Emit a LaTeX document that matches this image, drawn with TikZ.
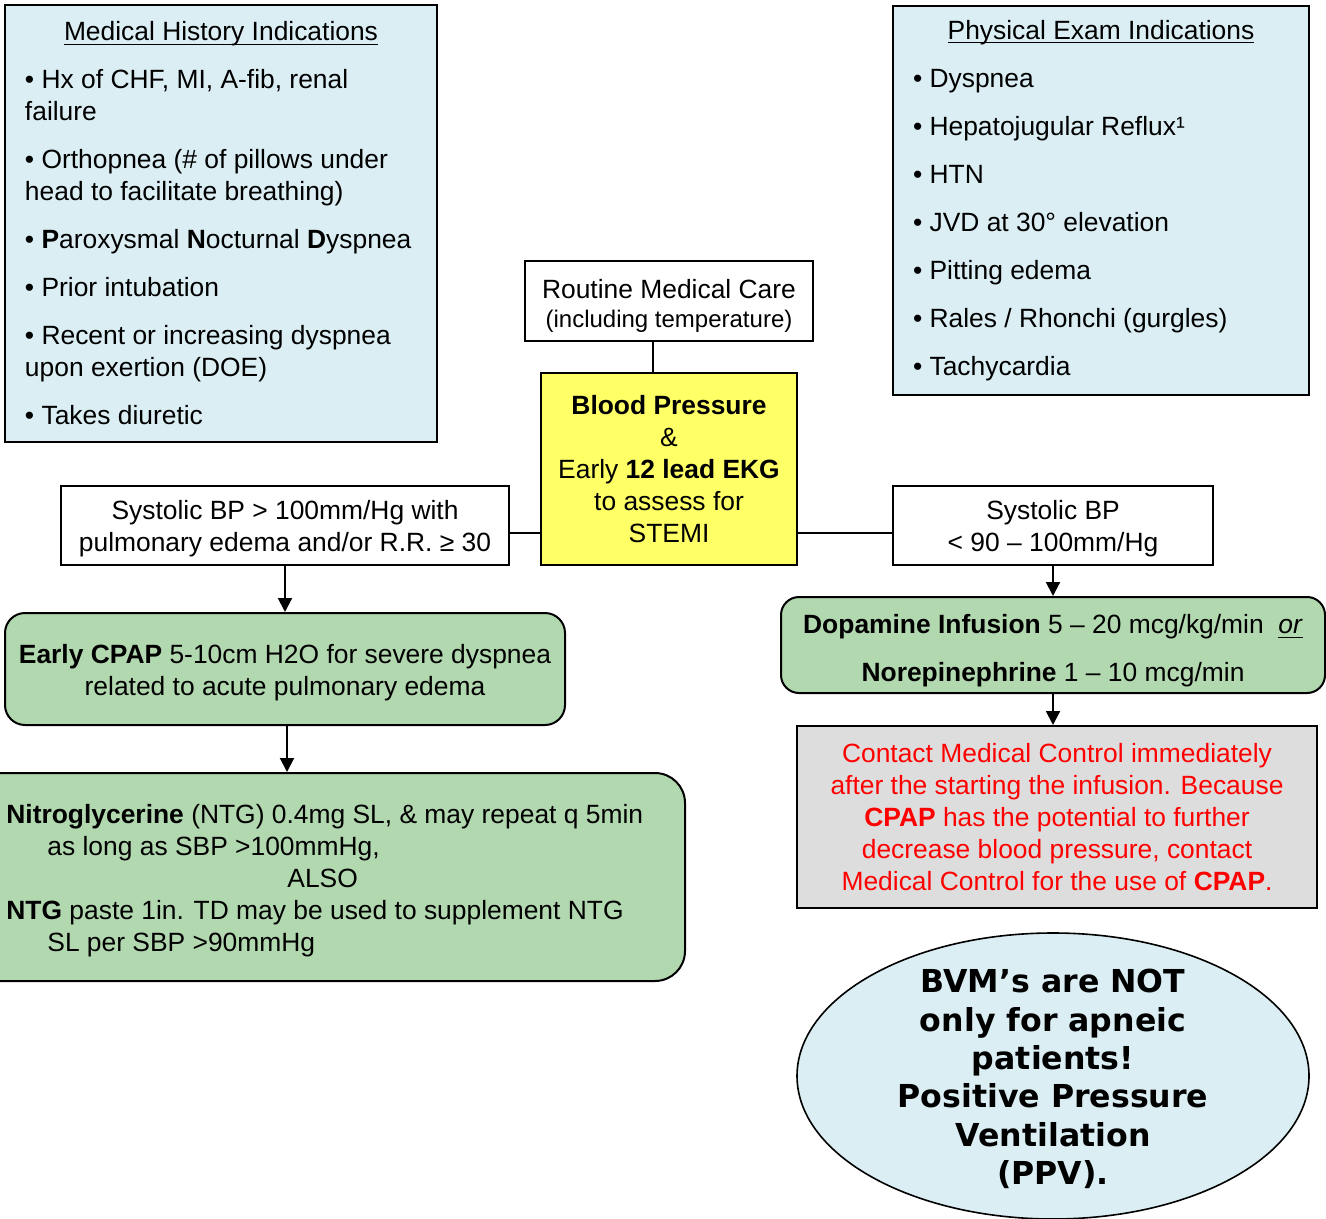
\documentclass[tikz,border=0pt]{standalone}
\usepackage{fontspec}
\usepackage{amsmath}
\setmainfont{Liberation Sans}
\newfontfamily\bannerfont{DejaVu Sans}
\usetikzlibrary{arrows.meta,shapes.geometric}

\definecolor{paleblue}{HTML}{DAEEF3}
\definecolor{softgreen}{HTML}{B2D8B0}
\definecolor{bpyellow}{HTML}{FFFF66}
\definecolor{notegray}{HTML}{DDDDDD}
\definecolor{alertred}{HTML}{FF0000}

% underline sitting just under the baseline
\newcommand{\flatul}[1]{\underline{\smash[b]{#1}}}
% invisible strut that lowers a node's text block
\newcommand{\lift}[1]{\rule{0pt}{#1}}

\tikzset{
  box/.style={draw=black, line width=1pt, inner sep=0pt, align=center,
              font=\fontsize{13.2}{16}\selectfont},
  infobox/.style={box, fill=paleblue},
  greenbox/.style={box, fill=softgreen},
  conn/.style={line width=1pt},
  arr/.style={line width=1pt, -{Triangle[width=7pt,length=7pt]}},
}

\begin{document}
\begin{tikzpicture}[x=0.5pt, y=-0.5pt]
\useasboundingbox (0,0) rectangle (1326,1219);
\clip (0,0) rectangle (1326,1219);

% history panel
\node[infobox, minimum width=216pt, minimum height=218.5pt] (hist) at (221,223.5) {%
\begin{minipage}{196pt}\setlength{\parskip}{8pt}%
\centering\flatul{Medical History Indications}\par
\raggedright
• Hx of CHF, MI, A-fib, renal\newline failure\par
• Orthopnea (\# of pillows under\newline head to facilitate breathing)\par
• \textbf{P}aroxysmal \textbf{N}octurnal \textbf{D}yspnea\par
• Prior intubation\par
• Recent or increasing dyspnea\newline upon exertion (DOE)\par
• Takes diuretic
\end{minipage}};

% physical exam panel
\node[infobox, minimum width=208pt, minimum height=194.5pt] (exam) at (1101,200.5) {%
\begin{minipage}{188pt}\setlength{\parskip}{8pt}%
\centering\flatul{Physical Exam Indications}\par
\raggedright
• Dyspnea\par
• Hepatojugular Reflux¹\par
• HTN\par
• JVD at 30° elevation\par
• Pitting edema\par
• Rales / Rhonchi (gurgles)\par
• Tachycardia
\end{minipage}};

% central column
\node[box, fill=white, minimum width=144pt, minimum height=40pt] (routine) at (669,301)
  {\lift{14pt}Routine Medical Care\\[-1.5pt]{\fontsize{12}{15}\selectfont(including temperature)}};
\node[box, fill=bpyellow, minimum width=128pt, minimum height=96pt] (bp) at (669,469)
  {\textbf{Blood Pressure}\\\&\\Early \textbf{12 lead EKG}\\to assess for\\STEMI};

% branches
\node[box, fill=white, minimum width=224pt, minimum height=39.5pt] (lsbp) at (285,525.5)
  {\lift{12.6pt}Systolic BP > 100mm/Hg with\\pulmonary edema and/or R.R. ≥ 30};
\node[box, fill=white, minimum width=160pt, minimum height=39.5pt] (rsbp) at (1053,525.5)
  {\lift{12.6pt}Systolic BP\\< 90 – 100mm/Hg};

% left treatment path
\node[greenbox, rounded corners=10pt, minimum width=280pt, minimum height=56pt] (cpap) at (285,669)
  {\lift{13.6pt}\textbf{Early CPAP} 5-10cm H2O for severe dyspnea\\related to acute pulmonary edema};
\node[greenbox, rounded corners=15pt, minimum width=362.5pt, minimum height=104pt] (ntgbox) at (322.5,877) {};
\node[anchor=west, align=left, inner sep=0pt, font=\fontsize{13.2}{16}\selectfont] (ntg) at (6,881)
  {\textbf{Nitroglycerine} (NTG) 0.4mg SL, \& may repeat q 5min\\
   \hspace*{20.5pt}as long as SBP >100mmHg,\\
   \hspace*{140.5pt}ALSO\\
   \textbf{NTG} paste 1in. TD may be used to supplement NTG\\
   \hspace*{20.5pt}SL per SBP >90mmHg};

% right treatment path
\node[greenbox, rounded corners=9pt, minimum width=272pt, minimum height=48pt] (dopa) at (1053,645)
  {\lift{15.6pt}\textbf{Dopamine Infusion} 5 – 20 mcg/kg/min\ \ \underline{\textit{or}}\\[8pt]
   \textbf{Norepinephrine} 1 – 10 mcg/min};
\node[box, fill=notegray, text=alertred, minimum width=260pt, minimum height=91pt] (contact) at (1057,817)
  {Contact Medical Control immediately\\
   after the starting the infusion. Because\\
   \textbf{CPAP} has the potential to further\\
   decrease blood pressure, contact\\
   Medical Control for the use of \textbf{CPAP}.};

% ventilation reminder: oval outline, then its text
\node[ellipse, draw=black, line width=0.8pt, fill=paleblue, inner sep=0pt,
      minimum width=256pt, minimum height=143pt] (bvm) at (1053,1076) {};
\node[align=center, inner sep=0pt,
      font=\bannerfont\bfseries\fontsize{15.8}{19.2}\selectfont] (bvmtext) at (1053,1079)
  {BVM’s are NOT\\only for apneic\\patients!\\Positive Pressure\\Ventilation\\(PPV).};

% connectors
\draw[conn] ([xshift=-8pt]routine.south) -- ([xshift=-8pt]bp.north);
\draw[conn] ([yshift=-3.5pt]lsbp.east) -- ([yshift=-3.5pt]lsbp.east -| bp.west);
\draw[conn] ([yshift=-3.5pt]rsbp.west) -- ([yshift=-3.5pt]rsbp.west -| bp.east);
\draw[arr] (lsbp.south) -- (cpap.north);
\draw[arr] ([xshift=1pt]cpap.south) -- ([xshift=1pt]cpap.south |- ntgbox.north);
\draw[arr] (rsbp.south) -- (dopa.north);
\draw[arr] (dopa.south) -- (dopa.south |- contact.north);
\end{tikzpicture}
\end{document}
